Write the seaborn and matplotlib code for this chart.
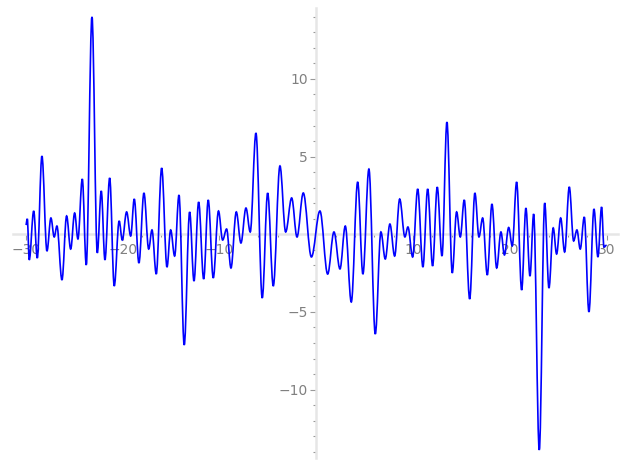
import matplotlib
matplotlib.use("Agg")
import matplotlib.pyplot as plt
from matplotlib.path import Path
from matplotlib.patches import PathPatch
from matplotlib.ticker import MultipleLocator, FuncFormatter
import seaborn as sns

sns.set_style("white")
plt.rcParams['font.family'] = ['DejaVu Sans']

# turning points of the curve
peak_x = [-30.0, -29.85, -29.65, -29.19, -28.82, -28.34, -27.82, -27.41, -27.07, -26.79,
          -26.27, -25.79, -25.37, -24.96, -24.62, -24.17, -23.76, -23.17, -22.62, -22.21,
          -21.83, -21.34, -20.87, -20.36, -20.04, -19.59, -19.17, -18.80, -18.32, -17.80,
          -17.31, -16.97, -16.53, -15.97, -15.42, -15.04, -14.63, -14.18, -13.64, -13.08,
          -12.63, -12.15, -11.63, -11.16, -10.64, -10.10, -9.67, -9.26, -8.81, -8.26,
          -7.78, -7.26, -6.82, -6.23, -5.58, -5.02, -4.44, -3.75, -3.16, -2.54,
          -1.99, -1.34, -0.50, 0.38, 1.18, 1.83, 2.45, 3.00, 3.62, 4.28,
          4.82, 5.44, 6.10, 6.68, 7.13, 7.61, 8.10, 8.62, 9.16, 9.47,
          9.96, 10.48, 11.02, 11.51, 12.02, 12.50, 12.99, 13.50, 14.05, 14.50,
          14.88, 15.29, 15.85, 16.39, 16.81, 17.19, 17.67, 18.15, 18.64, 19.08,
          19.44, 19.88, 20.25, 20.70, 21.22, 21.66, 22.08, 22.46, 23.04, 23.60,
          24.04, 24.48, 24.83, 25.25, 25.66, 26.14, 26.59, 26.93, 27.27, 27.69,
          28.17, 28.69, 29.10, 29.48, 29.72, 30.0]
peak_y = [0.6, 1.0, -1.65, 1.5, -1.53, 5.04, -1.08, 1.05, -0.17, 0.53,
          -2.94, 1.18, -0.95, 1.37, -0.30, 3.56, -1.98, 14.0, -1.20, 2.79,
          -1.65, 3.63, -3.33, 0.86, -0.37, 1.44, -0.11, 2.27, -1.85, 2.66,
          -0.95, 0.28, -2.56, 4.27, -2.11, 0.28, -1.40, 2.53, -7.13, 1.44,
          -3.01, 2.08, -2.88, 2.21, -2.81, 1.50, -0.37, 0.34, -2.17, 1.44,
          -0.56, 1.69, 0.15, 6.52, -4.10, 2.66, -3.33, 4.40, 0.15, 2.34,
          -0.17, 2.66, -1.46, 1.50, -2.56, 0.15, -2.23, 0.53, -4.36, 3.37,
          -2.56, 4.20, -6.42, 0.15, -1.59, 0.66, -1.40, 2.27, -0.17, 0.47,
          -1.46, 2.92, -2.11, 2.92, -2.04, 3.04, -1.40, 7.23, -2.49, 1.44,
          -0.17, 2.21, -4.17, 2.66, -0.17, 1.05, -2.62, 1.95, -2.17, 0.15,
          -1.33, 0.44, -0.75, 3.37, -3.59, 1.69, -2.69, 1.31, -13.89, 2.02,
          -3.46, 0.41, -1.27, 1.05, -1.14, 3.05, -0.43, 0.28, -0.95, 1.11,
          -5.0, 1.63, -1.46, 1.76, -0.82, -0.7]

x_major = [-30, -20, -10, 10, 20, 30]
y_major = [-10, -5, 5, 10]

AXIS_GREY = '#e6e6e6'
TEXT_GREY = '#808080'

fig = plt.figure(figsize=(6.27, 4.69), dpi=100)
ax = fig.add_axes([0.0207, 0.0235, 0.9649, 0.9595])

# smooth curve through the turning points (flat tangent at each one)
verts = [(peak_x[0], peak_y[0])]
codes = [Path.MOVETO]
k = 0.36
for i in range(1, len(peak_x)):
    x0, y0 = peak_x[i - 1], peak_y[i - 1]
    x1, y1 = peak_x[i], peak_y[i]
    dx = x1 - x0
    verts += [(x0 + k * dx, y0), (x1 - k * dx, y1), (x1, y1)]
    codes += [Path.CURVE4, Path.CURVE4, Path.CURVE4]
ax.add_patch(PathPatch(Path(verts, codes), facecolor='none', edgecolor='#0000ff',
                       lw=1.2, zorder=3))

ax.set_xlim(-31.33, 31.17)
ax.set_ylim(-14.40, 14.57)

# axes through the origin
for side in ['top', 'right']:
    ax.spines[side].set_visible(False)
for side in ['left', 'bottom']:
    ax.spines[side].set_position(('data', 0))
    ax.spines[side].set_color(AXIS_GREY)
    ax.spines[side].set_linewidth(1.8)
    ax.spines[side].set_zorder(1)

ax.set_xticks(x_major)
ax.set_yticks(y_major)
ax.xaxis.set_minor_locator(MultipleLocator(2))
ax.yaxis.set_minor_locator(MultipleLocator(1))
fmt = FuncFormatter(lambda v, p: '%d' % v if v >= 0 else '\u2212%d' % -v)
ax.xaxis.set_major_formatter(fmt)
ax.yaxis.set_major_formatter(fmt)
ax.tick_params(which='both', bottom=True, left=True, top=False, right=False,
               direction='out', color='#999999', labelcolor=TEXT_GREY,
               labelsize=10, width=0.8)
ax.tick_params(which='major', length=4, pad=2)
ax.tick_params(which='minor', length=2)
ax.grid(False)
ax.set_facecolor('white')

fig.savefig('out.png', dpi=100)
